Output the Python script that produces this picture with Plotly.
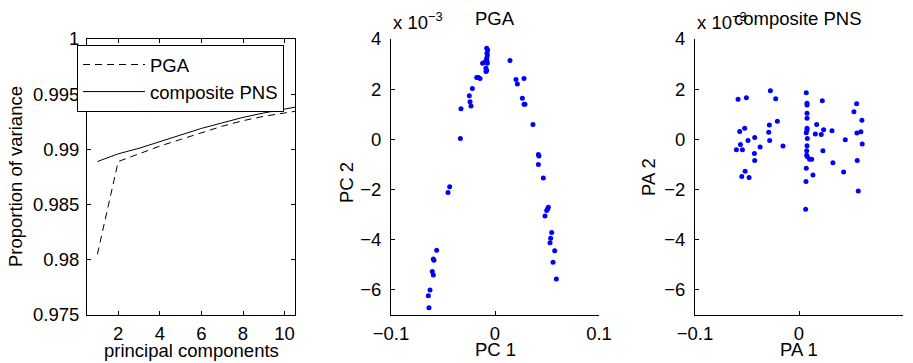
import plotly.graph_objects as go

FONT = "Liberation Sans, Arial, Helvetica, sans-serif"
FS = 18.5

# ---------------- data ----------------
components = [1, 2, 3, 4, 5, 6, 7, 8, 9, 10, 11]
pga_variance = [0.9805, 0.9889, 0.9896, 0.9903, 0.9909, 0.9915, 0.9921, 0.9926, 0.9930, 0.9933, 0.9936]
pns_variance = [0.9889, 0.9896, 0.9901, 0.9907, 0.9913, 0.9919, 0.9924, 0.9929, 0.9933, 0.9937, 0.9940]

# PGA scores (PC 2 in units of 1e-3)
pga_pc1 = [-0.0080, -0.0071, -0.0077, -0.0074, -0.0080, -0.0077, -0.0093, -0.0119, -0.0074, -0.0087,
           -0.0087, -0.0080, -0.0176, -0.0160, -0.0144, 0.0144, 0.0202, 0.0215, 0.0279, -0.0218,
           -0.0247, -0.0240, -0.0231, -0.0327, 0.0263, 0.0279, 0.0288, 0.0365, -0.0333, 0.0417,
           0.0423, 0.0417, 0.0465, -0.0436, -0.0452, 0.0513, 0.0506, 0.0497, 0.0481, 0.0545,
           0.0535, 0.0529, 0.0574, 0.0558, 0.0590, -0.0561, -0.0593, -0.0587, -0.0603, -0.0593,
           -0.0625, -0.0641, -0.0635]
pga_pc2 = [3.63, 3.56, 3.43, 3.34, 3.23, 3.12, 3.10, 3.03, 3.03, 2.83,
           2.70, 2.74, 2.47, 2.47, 2.43, 3.14, 2.39, 2.21, 2.43, 2.03,
           1.74, 1.50, 1.33, 1.22, 1.64, 1.40, 1.40, 0.59, 0.03, -0.60,
           -0.66, -1.00, -1.54, -1.89, -2.12, -2.71, -2.78, -2.84, -3.05, -3.71,
           -3.94, -4.12, -4.44, -4.90, -5.57, -4.42, -4.77, -4.82, -5.27, -5.41,
           -6.00, -6.23, -6.71]

# composite PNS scores (PA 2 in units of 1e-3)
pns_pa1 = [-0.0586, -0.0506, -0.0275, -0.0224, 0.0070, 0.0077, 0.0077, 0.0224, 0.0554, 0.0528,
           0.0605, 0.0077, 0.0077, -0.0208, -0.0285, 0.0170, -0.0570, -0.0522, -0.0291, 0.0077,
           0.0077, 0.0070, 0.0157, 0.0214, 0.0237, 0.0317, 0.0557, 0.0595, -0.0563, -0.0602,
           -0.0544, -0.0490, -0.0426, -0.0374, -0.0282, -0.0154, 0.0080, 0.0077, 0.0074, 0.0074,
           0.0080, 0.0102, 0.0122, -0.0429, -0.0426, 0.0230, 0.0445, 0.0608, 0.0326, 0.0429,
           0.0560, 0.0134, 0.0070, 0.0067, -0.0518, -0.0550, -0.0480, 0.0570, 0.0064]
pns_pa2 = [1.60, 1.66, 1.94, 1.62, 1.86, 1.44, 1.37, 1.54, 1.42, 1.10,
           0.76, 1.04, 0.84, 0.72, 0.57, 0.59, 0.31, 0.44, 0.28, 0.44,
           0.37, 0.26, 0.21, 0.19, 0.38, 0.34, 0.25, 0.30, -0.20, -0.41,
           -0.41, -0.05, 0.07, -0.30, -0.05, -0.26, 0.03, -0.25, -0.45, -0.63,
           -0.69, -0.79, -0.79, -0.56, -0.84, -0.45, -0.02, -0.18, -0.93, -1.30,
           -0.84, -1.42, -1.15, -1.68, -1.27, -1.48, -1.52, -2.06, -2.79]

left_yticks = [0.975, 0.98, 0.985, 0.99, 0.995, 1.0]
left_yticklabels = ["0.975", "0.98", "0.985", "0.99", "0.995", "1"]
left_xticks = [2, 4, 6, 8, 10]
score_xticks = [-0.1, 0, 0.1]
score_xticklabels = ["\u22120.1", "0", "0.1"]
score_yticks = [-6, -4, -2, 0, 2, 4]
score_yticklabels = ["\u22126", "\u22124", "\u22122", "0", "2", "4"]

# ---------------- figure ----------------
W, H = 913, 363
def px(x):
    return x / W
def py(y):
    return 1 - y / H

fig = go.Figure()

fig.add_trace(go.Scatter(x=components, y=pga_variance, mode="lines", name="PGA",
                         line=dict(color="black", width=1, dash="7px,5px"),
                         xaxis="x", yaxis="y"))
fig.add_trace(go.Scatter(x=components, y=pns_variance, mode="lines", name="composite PNS",
                         line=dict(color="black", width=1),
                         xaxis="x", yaxis="y"))
fig.add_trace(go.Scatter(x=pga_pc1, y=pga_pc2, mode="markers", showlegend=False,
                         marker=dict(color="#0000ff", size=5, line=dict(width=0)),
                         xaxis="x2", yaxis="y2"))
fig.add_trace(go.Scatter(x=pns_pa1, y=pns_pa2, mode="markers", showlegend=False,
                         marker=dict(color="#0000ff", size=5, line=dict(width=0)),
                         xaxis="x3", yaxis="y3"))

tickfont = dict(family=FONT, size=FS, color="black")
common = dict(showgrid=False, zeroline=False, showline=True, linecolor="black", linewidth=1,
              ticks="inside", ticklen=4, tickcolor="black", tickwidth=1, tickfont=tickfont,
              automargin=False)

top, bottom = 39, 315
dom_y = [py(bottom), py(top)]

fig.update_layout(
    width=W, height=H,
    margin=dict(l=0, r=0, t=0, b=0, autoexpand=False),
    paper_bgcolor="white", plot_bgcolor="white",
    font=dict(family=FONT, size=FS, color="black"),
    xaxis=dict(domain=[px(87), px(295)], range=[0.5, 10.5], tickvals=left_xticks,
               mirror="ticks", ticklabelstandoff=2, **common),
    yaxis=dict(domain=dom_y, range=[0.975, 1.0], tickvals=left_yticks, ticktext=left_yticklabels,
               mirror="ticks", ticklabelstandoff=3, **common),
    xaxis2=dict(domain=[px(391), px(599)], range=[-0.1, 0.1], tickvals=score_xticks,
                ticktext=score_xticklabels, anchor="y2", ticklabelstandoff=2, **common),
    yaxis2=dict(domain=dom_y, range=[-7, 4], tickvals=score_yticks, ticktext=score_yticklabels,
                anchor="x2", ticklabelstandoff=5, **common),
    xaxis3=dict(domain=[px(695), px(903)], range=[-0.1, 0.1], tickvals=score_xticks,
                ticktext=score_xticklabels, anchor="y3", ticklabelstandoff=2, **common),
    yaxis3=dict(domain=dom_y, range=[-7, 4], tickvals=score_yticks, ticktext=score_yticklabels,
                anchor="x3", ticklabelstandoff=5, **common),
    legend=dict(x=px(77), y=py(45), xanchor="left", yanchor="top",
                bgcolor="white", bordercolor="black", borderwidth=1,
                font=dict(family=FONT, size=18.5, color="black"),
                itemwidth=62, tracegroupgap=0),
    showlegend=True,
)

def ann(text, x, y, xanchor="center", yanchor="middle", angle=0, size=FS):
    fig.add_annotation(text=text, x=px(x), y=py(y), xref="paper", yref="paper",
                       xanchor=xanchor, yanchor=yanchor, showarrow=False, textangle=angle,
                       font=dict(family=FONT, size=size, color="black"))

ann("principal components", 191, 350)
ann("Proportion of variance", 16, 177, angle=-90)
ann("PC 1", 495, 349)
ann("PC 2", 346, 183, angle=-90)
ann("PA 1", 799, 349)
ann("PA 2", 649, 177, angle=-90)
ann("PGA", 495, 19)
ann("x 10<sup>\u22123</sup>", 391, 21, xanchor="left")
ann("x 10<sup>\u22123</sup>", 695, 21, xanchor="left")
ann("composite PNS", 798, 19)

fig.write_html("out.html", config={"displayModeBar": False},
               post_script="document.body.style.margin='0';document.body.style.padding='0';")
